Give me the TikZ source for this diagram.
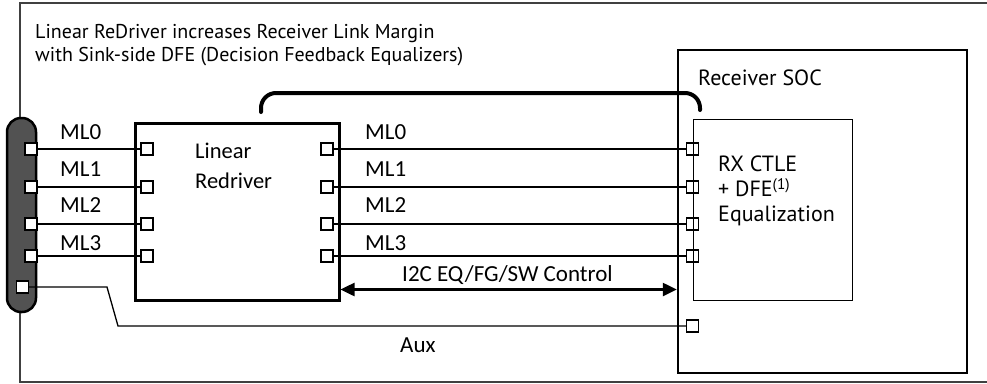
\documentclass[tikz,border=0pt]{standalone}
\usepackage{fontspec}
\setmainfont{Carlito}
\newfontfamily\myriad{PT Sans}
\usetikzlibrary{arrows.meta,positioning}

\begin{document}
\begin{tikzpicture}[x=1pt,y=-1pt,line join=miter]
  \tikzstyle{pin}=[draw,fill=white,line width=1.1pt,minimum size=12pt,inner sep=0pt]
  \tikzstyle{lbl}=[font=\fontsize{23}{27}\selectfont,inner sep=0pt,anchor=base west]
  \tikzstyle{wire}=[line width=1.3pt]
  \useasboundingbox (0,0) rectangle (987,383);

  % outer frame
  \draw[black!75,line width=1.2pt] (995,3) -- (20,3) -- (20,382) -- (995,382);

  % cable with pins
  \node[draw,line width=2.5pt,fill=black!68,rounded corners=14pt,
        minimum width=29pt,minimum height=194pt,inner sep=0pt] (cable) at (21.5,215) {};
  \foreach \i/\y in {0/149,1/187,2/224,3/256}
    \node[pin] (cab-\i) at (31,\y) {};
  \node[pin] (cab-aux) at (22.5,287) {};

  % linear redriver
  \node[draw,line width=3pt,minimum width=204pt,minimum height=177pt,inner sep=0pt] (redrv) at (237,211.5) {};
  \node[font=\fontsize{22.5}{30}\selectfont,align=left,anchor=base west,inner sep=0pt] (redrv-txt) at (195,188) {Linear\\Redriver};
  \foreach \i/\y in {0/149,1/187,2/224,3/256}
  {
    \node[pin] (lin-\i) at (147,\y) {};
    \node[pin] (rout-\i) at (327,\y) {};
  }

  % receiver soc
  \node[draw,line width=2.5pt,minimum width=289pt,minimum height=323pt,inner sep=0pt] (soc) at (822.5,211.5) {};
  \node[font=\myriad\fontsize{22}{26}\selectfont,anchor=base west,inner sep=0pt] (soc-txt) at (698,85) {Receiver SOC};
  \foreach \i/\y in {0/149,1/187,2/224,3/256}
    \node[pin] (rx-\i) at (692.5,\y) {};
  \node[pin] (soc-aux) at (692.5,326) {};
  \node[draw,line width=1pt,minimum width=159pt,minimum height=181pt,inner sep=0pt] (rxeq) at (772.5,209.5) {};
  \node[font=\myriad\fontsize{22}{25}\selectfont,align=left,anchor=north west,inner sep=0pt] (rxeq-txt) at (718,156)
    {RX CTLE\\+ DFE\textsuperscript{(1)}\\Equalization};

  % title
  \node[font=\myriad\fontsize{20}{23}\selectfont,align=left,anchor=north west,inner sep=0pt] (title) at (35,24)
    {Linear ReDriver increases Receiver Link Margin\\with Sink-side DFE (Decision Feedback Equalizers)};

  % main links
  \foreach \i/\b in {0/139,1/176,2/212,3/250}
  {
    \draw[wire] (cab-\i) -- (lin-\i);
    \draw[wire] (rout-\i) -- (rx-\i);
    \node[lbl] (ml-l\i) at (60,\b) {ML\i};
    \node[lbl] (ml-r\i) at (365,\b) {ML\i};
  }

  % aux
  \coordinate (aux-a) at (107,287);
  \coordinate (aux-b) at (118,326);
  \draw[wire] (cab-aux) -- (aux-a) -- (aux-b) -- (soc-aux);
  \node[lbl] (aux) at (400,352) {Aux};

  % i2c control
  \coordinate (i2c-l) at ([yshift=12pt]redrv.south east);
  \draw[line width=2.5pt,{Triangle[length=14pt,width=13pt]}-{Triangle[length=14pt,width=13pt]}]
    (i2c-l) -- (i2c-l -| soc.west);
  \node[lbl] (i2c) at (402,281) {I2C EQ/FG/SW Control};

  % sideband arc
  \coordinate (arc-a) at (261,112);
  \coordinate (arc-b) at (700,110);
  \draw[line width=4pt,line cap=round,rounded corners=15pt] (arc-a) -- (261,93) -- (700,93) -- (arc-b);
\end{tikzpicture}
\end{document}
